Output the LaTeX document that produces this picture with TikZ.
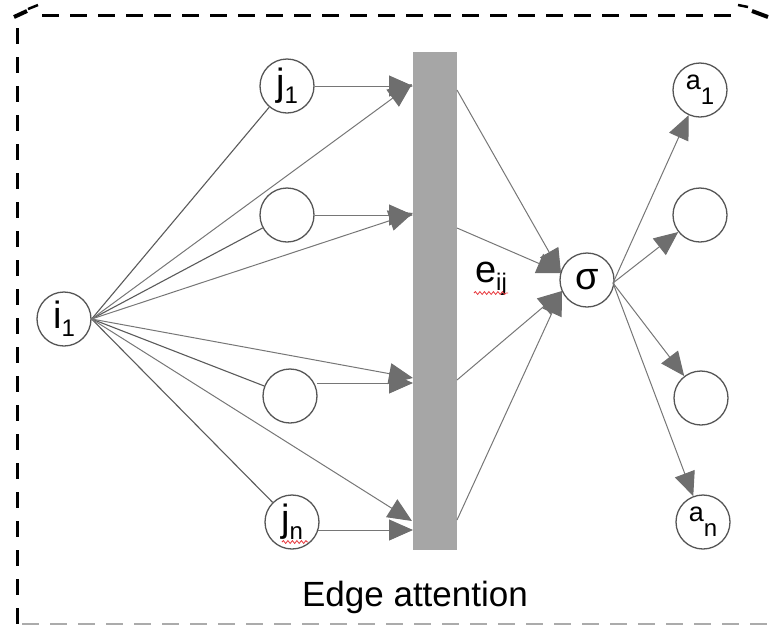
\documentclass[tikz,border=0pt]{standalone}
\usepackage{fontspec}
\setmainfont{Liberation Sans}
\usetikzlibrary{arrows.meta,decorations.pathmorphing}

\definecolor{ringcol}{HTML}{555555}
\definecolor{wirecol}{HTML}{767676}
\definecolor{tipcol}{HTML}{6E6E6E}
\definecolor{feedcol}{HTML}{5A5A5A}
\definecolor{barcol}{HTML}{A6A6A6}
\definecolor{framegray}{HTML}{ABABAB}
\definecolor{spellred}{HTML}{E8383D}

% big label with a lowered index
\newcommand{\biglabel}[2]{\fontsize{38}{38}\selectfont #1\raisebox{-8pt}{\fontsize{24}{24}\selectfont #2}}
% small output label: raised letter, lowered index
\newcommand{\outlabel}[2]{\fontsize{27}{27}\selectfont\raisebox{5pt}{#1}\raisebox{-10pt}{\fontsize{24}{24}\selectfont #2}}

\begin{document}
\begin{tikzpicture}[x=1pt,y=-1pt,
  neuron/.style={circle, draw=ringcol, line width=1.3pt, fill=white,
                 minimum size=54pt, inner sep=0pt},
  arr/.style={draw=wirecol, line width=1pt,
              -{Triangle[length=24pt,width=21pt,color=tipcol]}},
  feed/.style={draw=feedcol, line width=1.1pt},
  squiggle/.style={draw=spellred, line width=0.8pt,
                   decorate, decoration={snake, amplitude=1.4pt, segment length=4.5pt}}]
\useasboundingbox (0,0) rectangle (772,625);

% dashed frame
\draw[line width=3pt, dash pattern=on 17pt off 11pt] (42,15) -- (736,15);
\draw[line width=3pt, dash pattern=on 16pt off 13pt] (17,28) -- (17,625);
\draw[framegray, line width=1.6pt, dash pattern=on 17pt off 11pt] (22,624) -- (772,624);
\draw[line width=4pt] (14,17) -- (27,11);
\draw[line width=2.5pt] (28,9) -- (38,5);
\draw[line width=2.5pt] (738,5) -- (748,7);
\draw[line width=4pt] (752,11) -- (768,17);

% attention bar
\node[fill=barcol, minimum width=44pt, minimum height=498pt, inner sep=0pt] (bar) at (435,301) {};

% input and neighbour nodes
\node[neuron] (i1) at (64,319) {\biglabel{i}{1}};
\node[neuron] (j1) at (287,86)  {\biglabel{j}{1}};
\node[neuron] (j2) at (287,215) {};
\node[neuron] (j3) at (290,396) {};
\node[neuron] (jn) at (292,522) {\biglabel{j}{n}};

% softmax and output nodes
\node[neuron] (sig) at (587,280) {\fontsize{38}{38}\selectfont σ};
\node[neuron] (a1) at (700,90)  {\outlabel{a}{1}};
\node[neuron] (a2) at (700,215) {};
\node[neuron] (a3) at (701,398) {};
\node[neuron] (an) at (703,522) {\outlabel{a}{n}};

% anchor points on the bar and the nodes
\coordinate (iout) at (i1.east);
\coordinate (sout) at (613,283);
\coordinate (bi1) at (412,84);
\coordinate (bi2) at (413,213);
\coordinate (bi3) at (413,378);
\coordinate (bi4) at (412,521);
\coordinate (bj1) at (413,86);
\coordinate (bj2) at (413,215);
\coordinate (bj3) at (413,383);
\coordinate (bj4) at (413,530);
\coordinate (bo1) at (457,90);
\coordinate (bo2) at (457,228);
\coordinate (bo3) at (457,380);
\coordinate (bo4) at (457,520);
\coordinate (su) at (561,273);
\coordinate (sl) at (562,291);
\coordinate (j3out) at (317,383);
\coordinate (jnout) at (318,530);

% input fan-out
\draw[feed] (iout) -- (j1);
\draw[feed] (iout) -- (j2);
\draw[feed] (iout) -- (j3);
\draw[feed] (iout) -- (jn);
\draw[arr] (iout) -- (bi1);
\draw[arr] (iout) -- (bi2);
\draw[arr] (iout) -- (bi3);
\draw[arr] (iout) -- (bi4);

% neighbours into the bar
\draw[arr] (j1) -- (bj1);
\draw[arr] (j2) -- (bj2);
\draw[arr] (j3out) -- (bj3);
\draw[arr] (jnout) -- (bj4);

% bar into the softmax
\draw[arr] (bo1) -- (su);
\draw[arr] (bo2) -- (su);
\draw[arr] (bo3) -- (sl);
\draw[arr] (bo4) -- (sl);

% softmax to the outputs
\draw[arr] (sout) -- (a1);
\draw[arr] (sout) -- (a2);
\draw[arr] (sout) -- (a3);
\draw[arr] (sout) -- (an);

% labels
\node (eij) at (491,279) {\biglabel{e}{ij}};
\node (title) at (415,597) {\fontsize{35}{35}\selectfont Edge attention};

% spell-check marks
\draw[squiggle] (474,293) -- (508,293);
\draw[squiggle] (282,542) -- (308,542);
\end{tikzpicture}
\end{document}
